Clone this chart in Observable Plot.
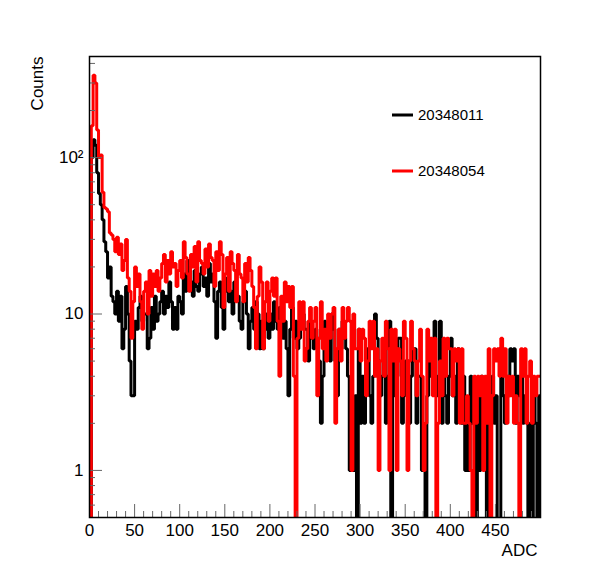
<!DOCTYPE html>
<html>
<head>
<meta charset="utf-8">
<script src="https://cdn.jsdelivr.net/npm/d3@7"></script>
<script src="https://cdn.jsdelivr.net/npm/@observablehq/plot@0.6"></script>
<style>
  body { margin: 0; background: #fff; }
  #chart { position: relative; width: 598px; height: 575px; }
</style>
</head>
<body>
<div id="chart"></div>
<script>
// ---- Data ----
const seriesNames = ["20348011", "20348054"];
// Histogram binning: 250 bins of 2 ADC from 0 to 500
const binLow = 0;
const binWidth = 2;
const counts20348011 = [
  // ADC 0-100
  0, 100, 130, 120, 80, 59, 50, 40, 29, 25, 17, 20, 13, 12, 10, 14, 9, 13, 6, 8,
  15, 10, 5, 3, 3, 9, 8, 11, 13, 9, 10, 10, 6, 7, 11, 8, 13, 9, 10, 12,
  14, 10, 13, 11, 16, 12, 8, 11, 8, 13,
  // ADC 100-200
  12, 10, 18, 14, 22, 16, 16, 13, 19, 15, 14, 18, 20, 15, 17, 13, 21, 16, 18, 12,
  7, 14, 16, 11, 8, 14, 17, 12, 14, 10, 16, 13, 13, 9, 8, 12, 14, 10, 6, 9,
  11, 8, 12, 10, 6, 9, 6, 8, 10, 7,
  // ADC 200-300
  10, 8, 12, 9, 8, 11, 11, 7, 9, 6, 3, 8, 11, 7, 9, 6, 7, 10, 10, 8,
  8, 5, 9, 7, 6, 8, 7, 5, 2, 4, 9, 6, 7, 5, 10, 8, 5, 3, 8, 6,
  9, 7, 6, 4, 1, 3, 1, 3, 0, 8,
  // ADC 300-400
  2, 4, 2, 5, 6, 3, 2, 4, 10, 7, 5, 3, 4, 6, 2, 4, 9, 0, 6, 3,
  4, 7, 7, 2, 3, 5, 5, 2, 4, 6, 6, 2, 4, 4, 1, 1, 0, 3, 6, 4,
  6, 9, 3, 4, 9, 2, 5, 3, 2, 4,
  // ADC 400-500
  7, 3, 4, 2, 6, 3, 2, 4, 1, 2, 1, 4, 2, 2, 0, 3, 1, 4, 2, 3,
  0, 2, 3, 4, 2, 3, 0, 0, 6, 3, 2, 4, 3, 6, 5, 6, 2, 4, 3, 4,
  2, 3, 2, 0, 2, 0, 3, 2, 0, 3
];
const counts20348054 = [
  // ADC 0-100
  0, 160, 336, 300, 150, 100, 104, 60, 48, 47, 45, 33, 32, 30, 25, 31, 24, 28, 19, 22,
  30, 17, 14, 7, 12, 20, 15, 18, 12, 8, 14, 16, 10, 19, 13, 18, 15, 19, 14, 17,
  21, 24, 16, 22, 18, 25, 20, 21, 15, 19,
  // ADC 100-200
  22, 17, 29, 23, 18, 14, 24, 20, 27, 16, 29, 22, 21, 18, 26, 20, 28, 23, 22, 15,
  25, 19, 29, 24, 11, 18, 23, 14, 25, 21, 19, 12, 24, 18, 17, 12, 21, 16, 23, 19,
  15, 11, 6, 13, 20, 16, 6, 12, 16, 9,
  // ADC 200-300
  14, 17, 13, 17, 9, 4, 13, 9, 16, 12, 15, 11, 15, 4, 0, 7, 12, 8, 12, 5,
  6, 9, 11, 7, 9, 11, 3, 7, 12, 6, 8, 5, 10, 7, 10, 11, 2, 6, 8, 5,
  11, 7, 9, 11, 9, 1, 10, 6, 6, 8,
  // ADC 300-400
  5, 8, 7, 3, 5, 9, 6, 9, 4, 6, 1, 5, 7, 4, 9, 6, 1, 8, 5, 8,
  1, 6, 5, 3, 9, 7, 1, 5, 9, 6, 5, 3, 5, 8, 4, 1, 2, 8, 5, 7,
  3, 7, 0, 2, 5, 3, 7, 4, 7, 6,
  // ADC 400-500
  6, 3, 6, 5, 6, 2, 6, 2, 2, 3, 2, 1, 0, 4, 2, 4, 3, 4, 1, 4,
  2, 6, 0, 3, 6, 5, 6, 4, 7, 4, 6, 2, 4, 3, 4, 2, 3, 2, 0, 6,
  4, 6, 2, 4, 5, 2, 4, 3, 4, 4
];
const xMajorTicks = [0, 50, 100, 150, 200, 250, 300, 350, 400, 450];
const xMinorTicks = [10,20,30,40,60,70,80,90,110,120,130,140,160,170,180,190,210,220,230,240,260,270,280,290,310,320,330,340,360,370,380,390,410,420,430,440,460,470,480,490];
const yMajorTicks = [1, 10, 100];
const yMinorTicks = [0.6, 0.7, 0.8, 0.9, 2, 3, 4, 5, 6, 7, 8, 9, 20, 30, 40, 50, 60, 70, 80, 90, 200, 300, 400];
const xDomain = [0, 500];
const yDomain = [0.5, 443];

// ---- Build step paths (empty bins drop below the frame) ----
const FLOOR = 0.3;
function steps(counts) {
  const pts = [];
  counts.forEach((c, k) => pts.push({x: binLow + k * binWidth, y: c > 0 ? c : FLOOR}));
  const last = counts[counts.length - 1];
  pts.push({x: binLow + counts.length * binWidth, y: last > 0 ? last : FLOOR});
  return pts;
}

const FONT = "'Liberation Sans', Arial, Helvetica, sans-serif";
const tickColor = "#666";
const plot = Plot.plot({
  width: 598,
  height: 575,
  marginLeft: 89,
  marginRight: 58,
  marginTop: 56,
  marginBottom: 58,
  style: {fontFamily: FONT, fontSize: "17px", color: "black", background: "white"},
  x: {domain: xDomain, label: null},
  y: {type: "log", domain: yDomain, label: null},
  marks: [
    Plot.line(steps(counts20348011), {x: "x", y: "y", curve: "step-after", stroke: "black", strokeWidth: 3, strokeLinejoin: "miter", clip: true}),
    Plot.line(steps(counts20348054), {x: "x", y: "y", curve: "step-after", stroke: "red", strokeWidth: 3, strokeLinejoin: "miter", clip: true}),
    Plot.axisX({ticks: xMajorTicks, tickSize: -13, tickFormat: () => "", stroke: tickColor, label: null}),
    Plot.axisX({ticks: xMinorTicks, tickSize: -6, tickFormat: () => "", stroke: tickColor, label: null}),
    Plot.axisX({ticks: xMajorTicks, tickSize: 0, tickPadding: 6, tickFormat: d => String(d), label: null}),
    Plot.axisY({ticks: yMajorTicks, tickSize: -13, tickFormat: () => "", stroke: tickColor, label: null}),
    Plot.axisY({ticks: yMinorTicks, tickSize: -6, tickFormat: () => "", stroke: tickColor, label: null}),
    Plot.axisY({ticks: yMajorTicks, tickSize: 0, tickPadding: 6, tickFormat: d => d === 100 ? "10²" : String(d), label: null}),
    Plot.frame({stroke: "black", strokeWidth: 1.5}),
    Plot.text(["ADC"], {frameAnchor: "bottom-right", textAnchor: "end", lineAnchor: "top", dy: 26, dx: -3, fontSize: 17}),
    Plot.text(["Counts"], {frameAnchor: "top-left", textAnchor: "end", lineAnchor: "middle", rotate: -90, dx: -52, fontSize: 17})
  ]
});
document.getElementById("chart").appendChild(plot);

// ---- Legend ----
const svg = d3.select(plot);
const legend = svg.append("g").attr("font-family", FONT).attr("font-size", 15).attr("text-anchor", "start");
[{name: seriesNames[0], color: "black", y: 115}, {name: seriesNames[1], color: "red", y: 171}].forEach(d => {
  legend.append("line").attr("x1", 392).attr("x2", 413).attr("y1", d.y).attr("y2", d.y)
    .attr("stroke", d.color).attr("stroke-width", 3);
  legend.append("text").attr("x", 418).attr("y", d.y).attr("dy", "0.35em").attr("fill", "black")
    .attr("text-anchor", "start").text(d.name);
});
</script>
</body>
</html>
